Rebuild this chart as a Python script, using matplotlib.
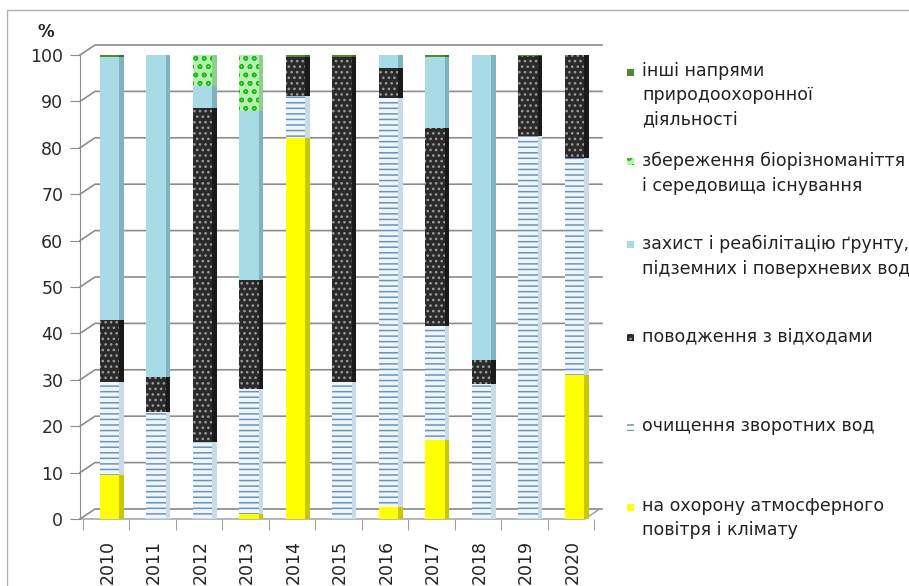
import matplotlib.pyplot as plt
from matplotlib.patches import Rectangle
from matplotlib.lines import Line2D
import numpy as np

plt.rcParams['font.family'] = ['DejaVu Sans']
plt.rcParams['hatch.linewidth'] = 1.1

years = ['2010', '2011', '2012', '2013', '2014', '2015', '2016', '2017', '2018', '2019', '2020']

# shares, % (bottom -> top)
air = [9.5, 0, 0, 1, 82.2, 0, 2.6, 17, 0, 0, 31]
wastewater = [20, 23, 16.6, 27, 9, 29.5, 88.2, 24.7, 29, 82.6, 46.8]
waste = [13.3, 7.5, 72, 23.6, 8.3, 70, 6.4, 42.6, 5.2, 17.2, 22.2]
soil_water = [56.7, 69.5, 4.7, 36.4, 0, 0, 2.8, 15.2, 65.8, 0, 0]
biodiversity = [0, 0, 6.7, 12, 0, 0, 0, 0, 0, 0, 0]
other = [0.5, 0, 0, 0, 0.5, 0.5, 0, 0.5, 0, 0.2, 0]

labels = [
    'на охорону атмосферного\nповітря і клімату',
    'очищення зворотних вод',
    'поводження з відходами',
    'захист і реабілітацію ґрунту,\nпідземних і поверхневих вод',
    'збереження біорізноманіття\nі середовища існування',
    'інші напрями\nприродоохоронної\nдіяльності',
]

# face, side shade, hatch, hatch colour
styles = [
    ('#ffff00', '#c8c800', None, '#ffff00'),
    ('#eef6fb', '#c9dbe6', '---', '#6f93b8'),
    ('#2a2a2a', '#1a1a1a', '...', '#9a9a9a'),
    ('#a9dbe6', '#7fb3c0', None, '#a9dbe6'),
    ('#b8f0b0', '#8fd088', 'oo', '#22bb22'),
    ('#4f8a2c', '#3d6d22', None, '#4f8a2c'),
]

series = [air, wastewater, waste, soil_water, biodiversity, other]

W, H = 909, 586
fig = plt.figure(figsize=(W / 100, H / 100), dpi=100)
ax_l, ax_r, ax_b, ax_t = 80, 600, 519, 55
ax = fig.add_axes([ax_l / W, 1 - ax_b / H, (ax_r - ax_l) / W, (ax_b - ax_t) / H])
ax.patch.set_alpha(0)

x = np.arange(len(years))
w = 0.42
side = 0.1

bottom = np.zeros(len(years))
for vals, (face, shade, hatch, hcol) in zip(series, styles):
    vals = np.array(vals)
    ax.bar(x - 0.06, vals, w, bottom=bottom, color=face, hatch=hatch,
           edgecolor=hcol, linewidth=0, zorder=3)
    ax.bar(x - 0.06 + w / 2 + side / 2, vals, side, bottom=bottom, color=shade,
           linewidth=0, zorder=3)
    bottom += vals

ax.set_xlim(-0.69, 10.49)
ax.set_ylim(0, 100)
yt = np.arange(0, 101, 10)
ax.set_yticks(yt)
ax.set_xticks(x - 0.1)
ax.set_xticklabels(years, rotation=90)
ax.set_xticks(np.arange(len(years) + 1) - 0.63, minor=True)
ax.tick_params(axis='y', labelsize=12.5, length=7, color='#8c8c8c', pad=5,
               labelcolor='#2a2a2a')
ax.tick_params(axis='x', which='major', labelsize=12.5, length=0, pad=15,
               labelcolor='#222222')
ax.tick_params(axis='x', which='minor', length=8, color='#8c8c8c')
for s in ['top', 'right', 'bottom']:
    ax.spines[s].set_visible(False)
ax.spines['left'].set_color('#8c8c8c')

# 3d-looking back wall and floor, drawn behind the bars
dx, dy = 15, 10
wall_kw = dict(color='#8c8c8c', linewidth=1.2, zorder=-1, transform=None)
fig.canvas.draw()
for v in yt:
    px0, py0 = ax.transData.transform((-0.69, v))
    fig.add_artist(Line2D([px0, px0 + dx, ax_r + 2], [py0, py0 + dy, py0 + dy], **wall_kw))
x0, y0 = ax.transData.transform((-0.69, 0))
x1 = ax.transData.transform((10.16, 0))[0]
fig.add_artist(Line2D([x0, x1, x1 + dx, x0 + dx], [y0, y0, y0 + dy, y0 + dy],
                      color='#9a9a9a', linewidth=1.0, zorder=-1, transform=None))

fig.text(37 / W, 1 - 32 / H, '%', fontsize=12, fontweight='bold', color='#222222',
         va='center')

# chart border
fig.add_artist(Line2D([7 / W, 7 / W, 1], [0, 1 - 10 / H, 1 - 10 / H], color='#b0b0b0',
                      linewidth=1.0, transform=fig.transFigure))

# legend, top entry first
leg_y = [72, 162, 245, 337, 427, 507]
for i, (lab, st) in enumerate(zip(labels[::-1], styles[::-1])):
    yy = leg_y[i]
    face, shade, hatch, hcol = st
    fig.add_artist(Rectangle((627 / W, 1 - (yy + 3.5) / H), 7 / W, 7 / H,
                             transform=fig.transFigure,
                             facecolor='#ffffff' if hatch == '---' else face,
                             hatch=hatch, edgecolor=hcol, linewidth=0))
    fig.text(642 / W, 1 - (yy - 10) / H, lab, fontsize=12.5, color='#222222',
             va='top', linespacing=1.45)

fig.savefig('out.png', dpi=100)
